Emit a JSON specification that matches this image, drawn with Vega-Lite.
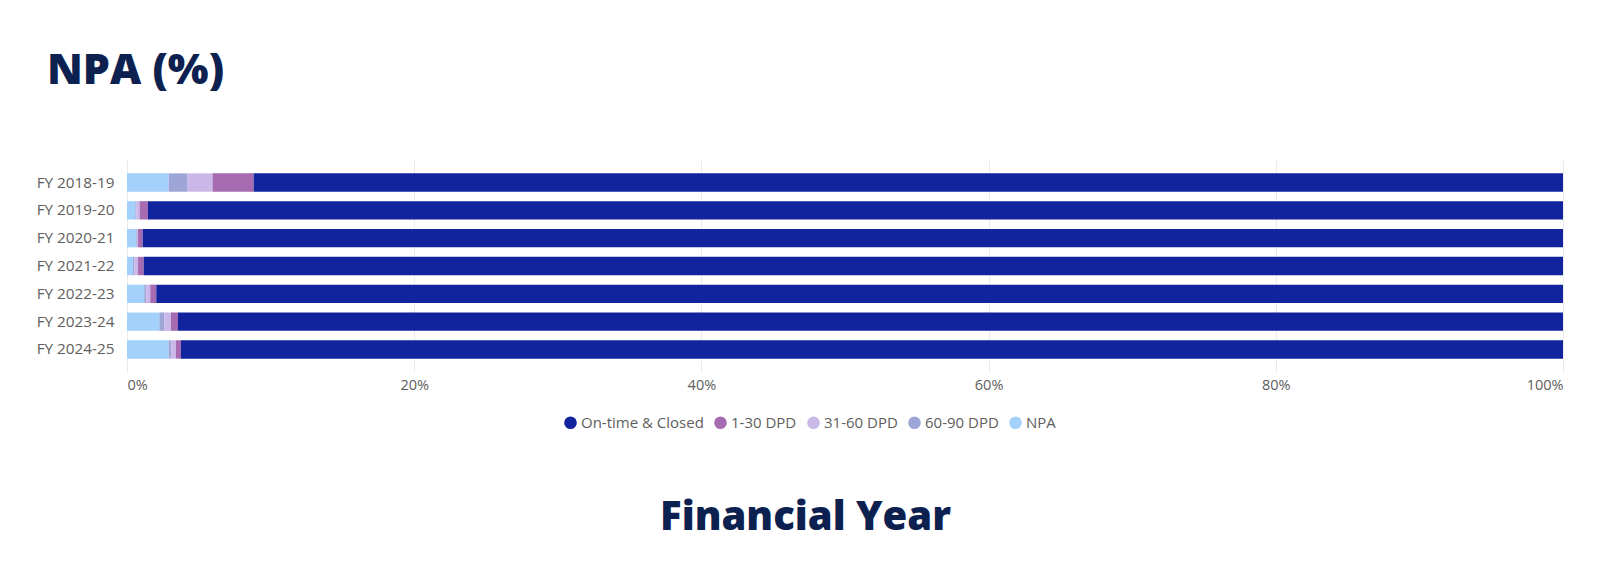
{
  "$schema": "https://vega.github.io/schema/vega-lite/v6.json",
  "width": 1436,
  "height": 212,
  "autosize": {"type": "none"},
  "padding": {"left": 127, "top": 160, "right": 40, "bottom": 197},
  "background": "white",
  "title": {
    "text": "NPA (%)",
    "anchor": "start",
    "orient": "top",
    "frame": "group",
    "font": "Open Sans",
    "fontSize": 43,
    "fontWeight": 800,
    "color": "#0d2150",
    "baseline": "alphabetic",
    "offset": 33,
    "dx": -80
  },
  "data": {
    "values": [
      {"fy": "FY 2018-19", "status": "NPA", "k": 1, "pct": 2.9},
      {"fy": "FY 2018-19", "status": "60-90 DPD", "k": 2, "pct": 1.32},
      {"fy": "FY 2018-19", "status": "31-60 DPD", "k": 3, "pct": 1.74},
      {"fy": "FY 2018-19", "status": "1-30 DPD", "k": 4, "pct": 2.86},
      {"fy": "FY 2018-19", "status": "On-time & Closed", "k": 5, "pct": 91.18},
      {"fy": "FY 2019-20", "status": "NPA", "k": 1, "pct": 0.58},
      {"fy": "FY 2019-20", "status": "60-90 DPD", "k": 2, "pct": 0.07},
      {"fy": "FY 2019-20", "status": "31-60 DPD", "k": 3, "pct": 0.23},
      {"fy": "FY 2019-20", "status": "1-30 DPD", "k": 4, "pct": 0.58},
      {"fy": "FY 2019-20", "status": "On-time & Closed", "k": 5, "pct": 98.54},
      {"fy": "FY 2020-21", "status": "NPA", "k": 1, "pct": 0.65},
      {"fy": "FY 2020-21", "status": "60-90 DPD", "k": 2, "pct": 0.05},
      {"fy": "FY 2020-21", "status": "31-60 DPD", "k": 3, "pct": 0.07},
      {"fy": "FY 2020-21", "status": "1-30 DPD", "k": 4, "pct": 0.32},
      {"fy": "FY 2020-21", "status": "On-time & Closed", "k": 5, "pct": 98.91},
      {"fy": "FY 2021-22", "status": "NPA", "k": 1, "pct": 0.42},
      {"fy": "FY 2021-22", "status": "60-90 DPD", "k": 2, "pct": 0.09},
      {"fy": "FY 2021-22", "status": "31-60 DPD", "k": 3, "pct": 0.26},
      {"fy": "FY 2021-22", "status": "1-30 DPD", "k": 4, "pct": 0.39},
      {"fy": "FY 2021-22", "status": "On-time & Closed", "k": 5, "pct": 98.84},
      {"fy": "FY 2022-23", "status": "NPA", "k": 1, "pct": 1.2},
      {"fy": "FY 2022-23", "status": "60-90 DPD", "k": 2, "pct": 0.14},
      {"fy": "FY 2022-23", "status": "31-60 DPD", "k": 3, "pct": 0.28},
      {"fy": "FY 2022-23", "status": "1-30 DPD", "k": 4, "pct": 0.42},
      {"fy": "FY 2022-23", "status": "On-time & Closed", "k": 5, "pct": 97.96},
      {"fy": "FY 2023-24", "status": "NPA", "k": 1, "pct": 2.25},
      {"fy": "FY 2023-24", "status": "60-90 DPD", "k": 2, "pct": 0.35},
      {"fy": "FY 2023-24", "status": "31-60 DPD", "k": 3, "pct": 0.46},
      {"fy": "FY 2023-24", "status": "1-30 DPD", "k": 4, "pct": 0.49},
      {"fy": "FY 2023-24", "status": "On-time & Closed", "k": 5, "pct": 96.45},
      {"fy": "FY 2024-25", "status": "NPA", "k": 1, "pct": 2.9},
      {"fy": "FY 2024-25", "status": "60-90 DPD", "k": 2, "pct": 0.18},
      {"fy": "FY 2024-25", "status": "31-60 DPD", "k": 3, "pct": 0.33},
      {"fy": "FY 2024-25", "status": "1-30 DPD", "k": 4, "pct": 0.35},
      {"fy": "FY 2024-25", "status": "On-time & Closed", "k": 5, "pct": 96.24}
    ]
  },
  "mark": {"type": "bar"},
  "encoding": {
    "y": {
      "field": "fy",
      "type": "nominal",
      "sort": null,
      "scale": {"paddingInner": 0.34, "paddingOuter": 0.48},
      "axis": {
        "title": null,
        "domain": false,
        "ticks": false,
        "labelPadding": 13,
        "labelFont": "Open Sans",
        "labelFontSize": 15.3,
        "labelColor": "#605e5c"
      }
    },
    "x": {
      "field": "pct",
      "type": "quantitative",
      "stack": "normalize",
      "scale": {"domain": [0, 1], "nice": false},
      "axis": {
        "title": "Financial Year",
        "titleFont": "Open Sans",
        "titleFontSize": 40,
        "titleFontWeight": 800,
        "titleColor": "#0d2150",
        "titleX": 678,
        "titleY": 157,
        "titleAlign": "center",
        "titleBaseline": "alphabetic",
        "format": ".0%",
        "values": [0, 0.2, 0.4, 0.6, 0.8, 1],
        "domain": false,
        "ticks": false,
        "grid": true,
        "gridColor": "#ebebeb",
        "labelPadding": 6,
        "labelFont": "Open Sans",
        "labelFontSize": 14.5,
        "labelColor": "#605e5c"
      }
    },
    "color": {
      "field": "status",
      "type": "nominal",
      "scale": {
        "domain": ["On-time & Closed", "1-30 DPD", "31-60 DPD", "60-90 DPD", "NPA"],
        "range": ["#12239e", "#a66bb1", "#c9b8e8", "#9ea6d8", "#a3d1fb"]
      },
      "legend": {
        "title": null,
        "orient": "none",
        "direction": "horizontal",
        "legendX": 436,
        "legendY": 255,
        "symbolType": "circle",
        "symbolSize": 160,
        "symbolStrokeWidth": 0,
        "labelFont": "Open Sans",
        "labelFontSize": 15,
        "labelColor": "#605e5c",
        "labelOffset": 3,
        "columnPadding": 9
      }
    },
    "order": {"field": "k", "type": "quantitative", "sort": "ascending"}
  },
  "config": {"view": {"stroke": null}}
}
